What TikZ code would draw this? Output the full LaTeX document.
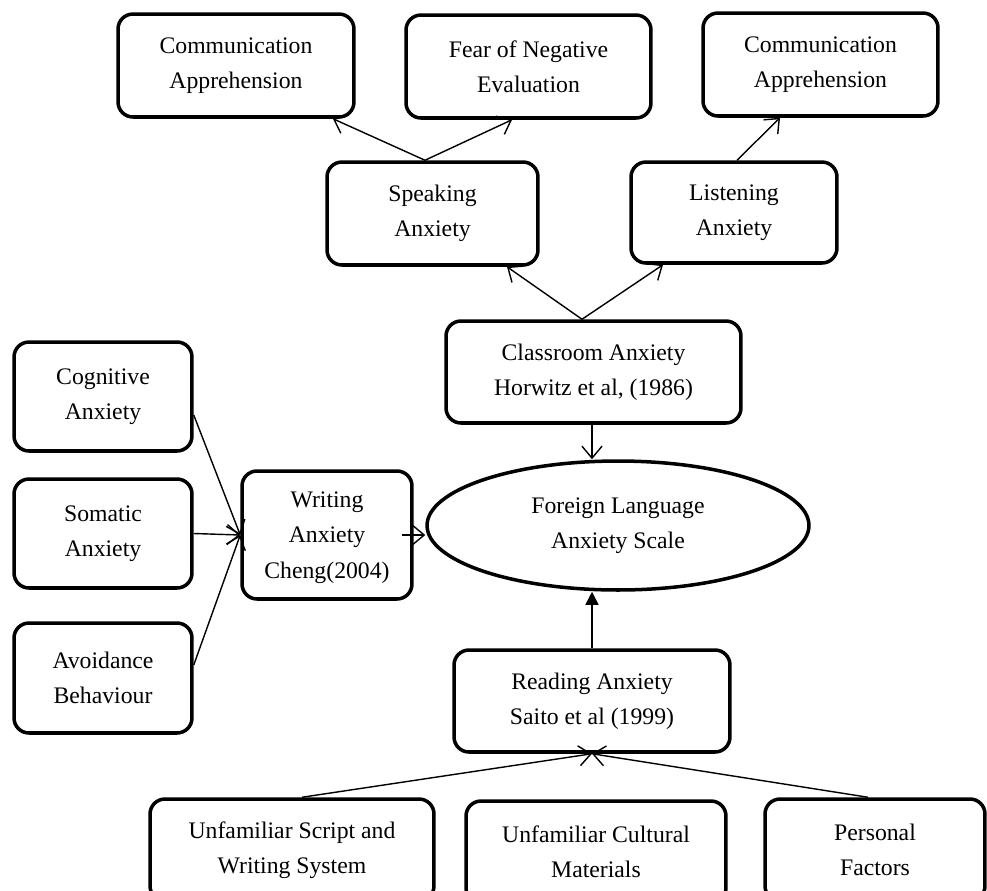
\documentclass[tikz,border=0pt]{standalone}
\usepackage{fontspec}
\setmainfont{Liberation Serif}
\usetikzlibrary{shapes.geometric,arrows.meta}

\begin{document}
\begin{tikzpicture}[x=0.02cm,y=-0.02cm,
    box/.style={draw,line width=2pt,rounded corners=0.3cm,align=center,%
      inner sep=0pt,font=\fontsize{13.5}{20}\selectfont},
    oval/.style={draw,ellipse,line width=2pt,align=center,inner sep=0pt,%
      font=\fontsize{13.5}{20}\selectfont},
    arr/.style={line width=0.8pt,-{Straight Barb[length=2.4mm,width=4mm]}},
    arrb/.style={line width=0.8pt,-{Triangle[length=2.6mm,width=2.6mm]}}]
  \useasboundingbox (0,0) rectangle (987,890) ;
  \clip (0,0) rectangle (987,890) ;
  % top row
  \node[box,minimum width=4.72cm,minimum height=2.06cm] (ca1) at (236,65.5) %
    {Communication\\Apprehension} ;
  \node[box,minimum width=4.9cm,minimum height=2.06cm] (fne) at (528.5,66.5) %
    {Fear of Negative\\Evaluation} ;
  \node[box,minimum width=4.7cm,minimum height=2.06cm] (ca2) at (820.5,64.5) %
    {Communication\\Apprehension} ;
  \node[box,minimum width=4.22cm,minimum height=2.06cm] (spk) at (432.5,213.5) %
    {Speaking\\Anxiety} ;
  \node[box,minimum width=4.12cm,minimum height=2.02cm] (lst) at (734,212.5) %
    {Listening\\Anxiety} ;
  \node[box,minimum width=5.9cm,minimum height=2.04cm] (cls) at (593.5,372) %
    {Classroom Anxiety\\Horwitz et al, (1986)} ;
  % left column
  \node[box,minimum width=3.56cm,minimum height=2.18cm] (cog) at (103,396.5) %
    {Cognitive\\Anxiety} ;
  \node[box,minimum width=3.56cm,minimum height=2.18cm] (som) at (103,533.5) %
    {Somatic\\Anxiety} ;
  \node[box,minimum width=3.56cm,minimum height=2.2cm] (avd) at (103,678) %
    {Avoidance\\Behaviour} ;
  \node[box,minimum width=3.4cm,minimum height=2.56cm,text depth=0pt] (wrt) at (327,535) %
    {Writing\\Anxiety\\Cheng(2004)} ;
  \node[oval,minimum width=7.64cm,minimum height=2.58cm] (fla) at (618,525.5) %
    {Foreign Language\\Anxiety Scale} ;
  % bottom
  \node[box,minimum width=5.52cm,minimum height=2.04cm] (rda) at (592,701) %
    {Reading Anxiety\\Saito et al (1999)} ;
  \node[box,minimum width=5.68cm,minimum height=2.04cm] (usw) at (292,850) %
    {Unfamiliar Script and\\Writing System} ;
  \node[box,minimum width=5.2cm,minimum height=2.04cm] (ucm) at (596,852) %
    {Unfamiliar Cultural\\Materials} ;
  \node[box,minimum width=4.4cm,minimum height=2.04cm] (pf) at (875,850) %
    {Personal\\Factors} ;
  % connectors
  \draw[arr] ([xshift=-0.15cm]spk.north) -- ([xshift=1.94cm]ca1.south) ;
  \draw[arr] ([xshift=-0.15cm]spk.north) -- ([xshift=-0.33cm]fne.south) ;
  \draw[arr] ([xshift=0.06cm]lst.north) -- ([xshift=-0.81cm]ca2.south) ;
  \draw[arr] ([xshift=-0.23cm]cls.north) -- ([xshift=1.49cm]spk.south) ;
  \draw[arr] ([xshift=-0.23cm]cls.north) -- ([xshift=-1.42cm]lst.south) ;
  \draw[arr] ([xshift=-0.03cm]cls.south) -- ([xshift=-0.03cm]cls.south |- fla.north) ;
  \draw[arrb] (rda.north) -- (rda.north |- fla.south) ;
  \draw[arr] ([yshift=-0.37cm]cog.east) -- (wrt.west) ;
  \draw[arr] (som.east) -- (wrt.west) ;
  \draw[arr] ([yshift=0.26cm]avd.east) -- (wrt.west) ;
  \draw[arr] ([xshift=-0.24cm]wrt.east) -- (fla.west |- wrt.east) ;
  \draw[arr] ([xshift=0.2cm]usw.north) -- (rda.south) ;
  \draw[arr] ([xshift=-0.14cm]pf.north) -- (rda.south) ;
\end{tikzpicture}
\end{document}
